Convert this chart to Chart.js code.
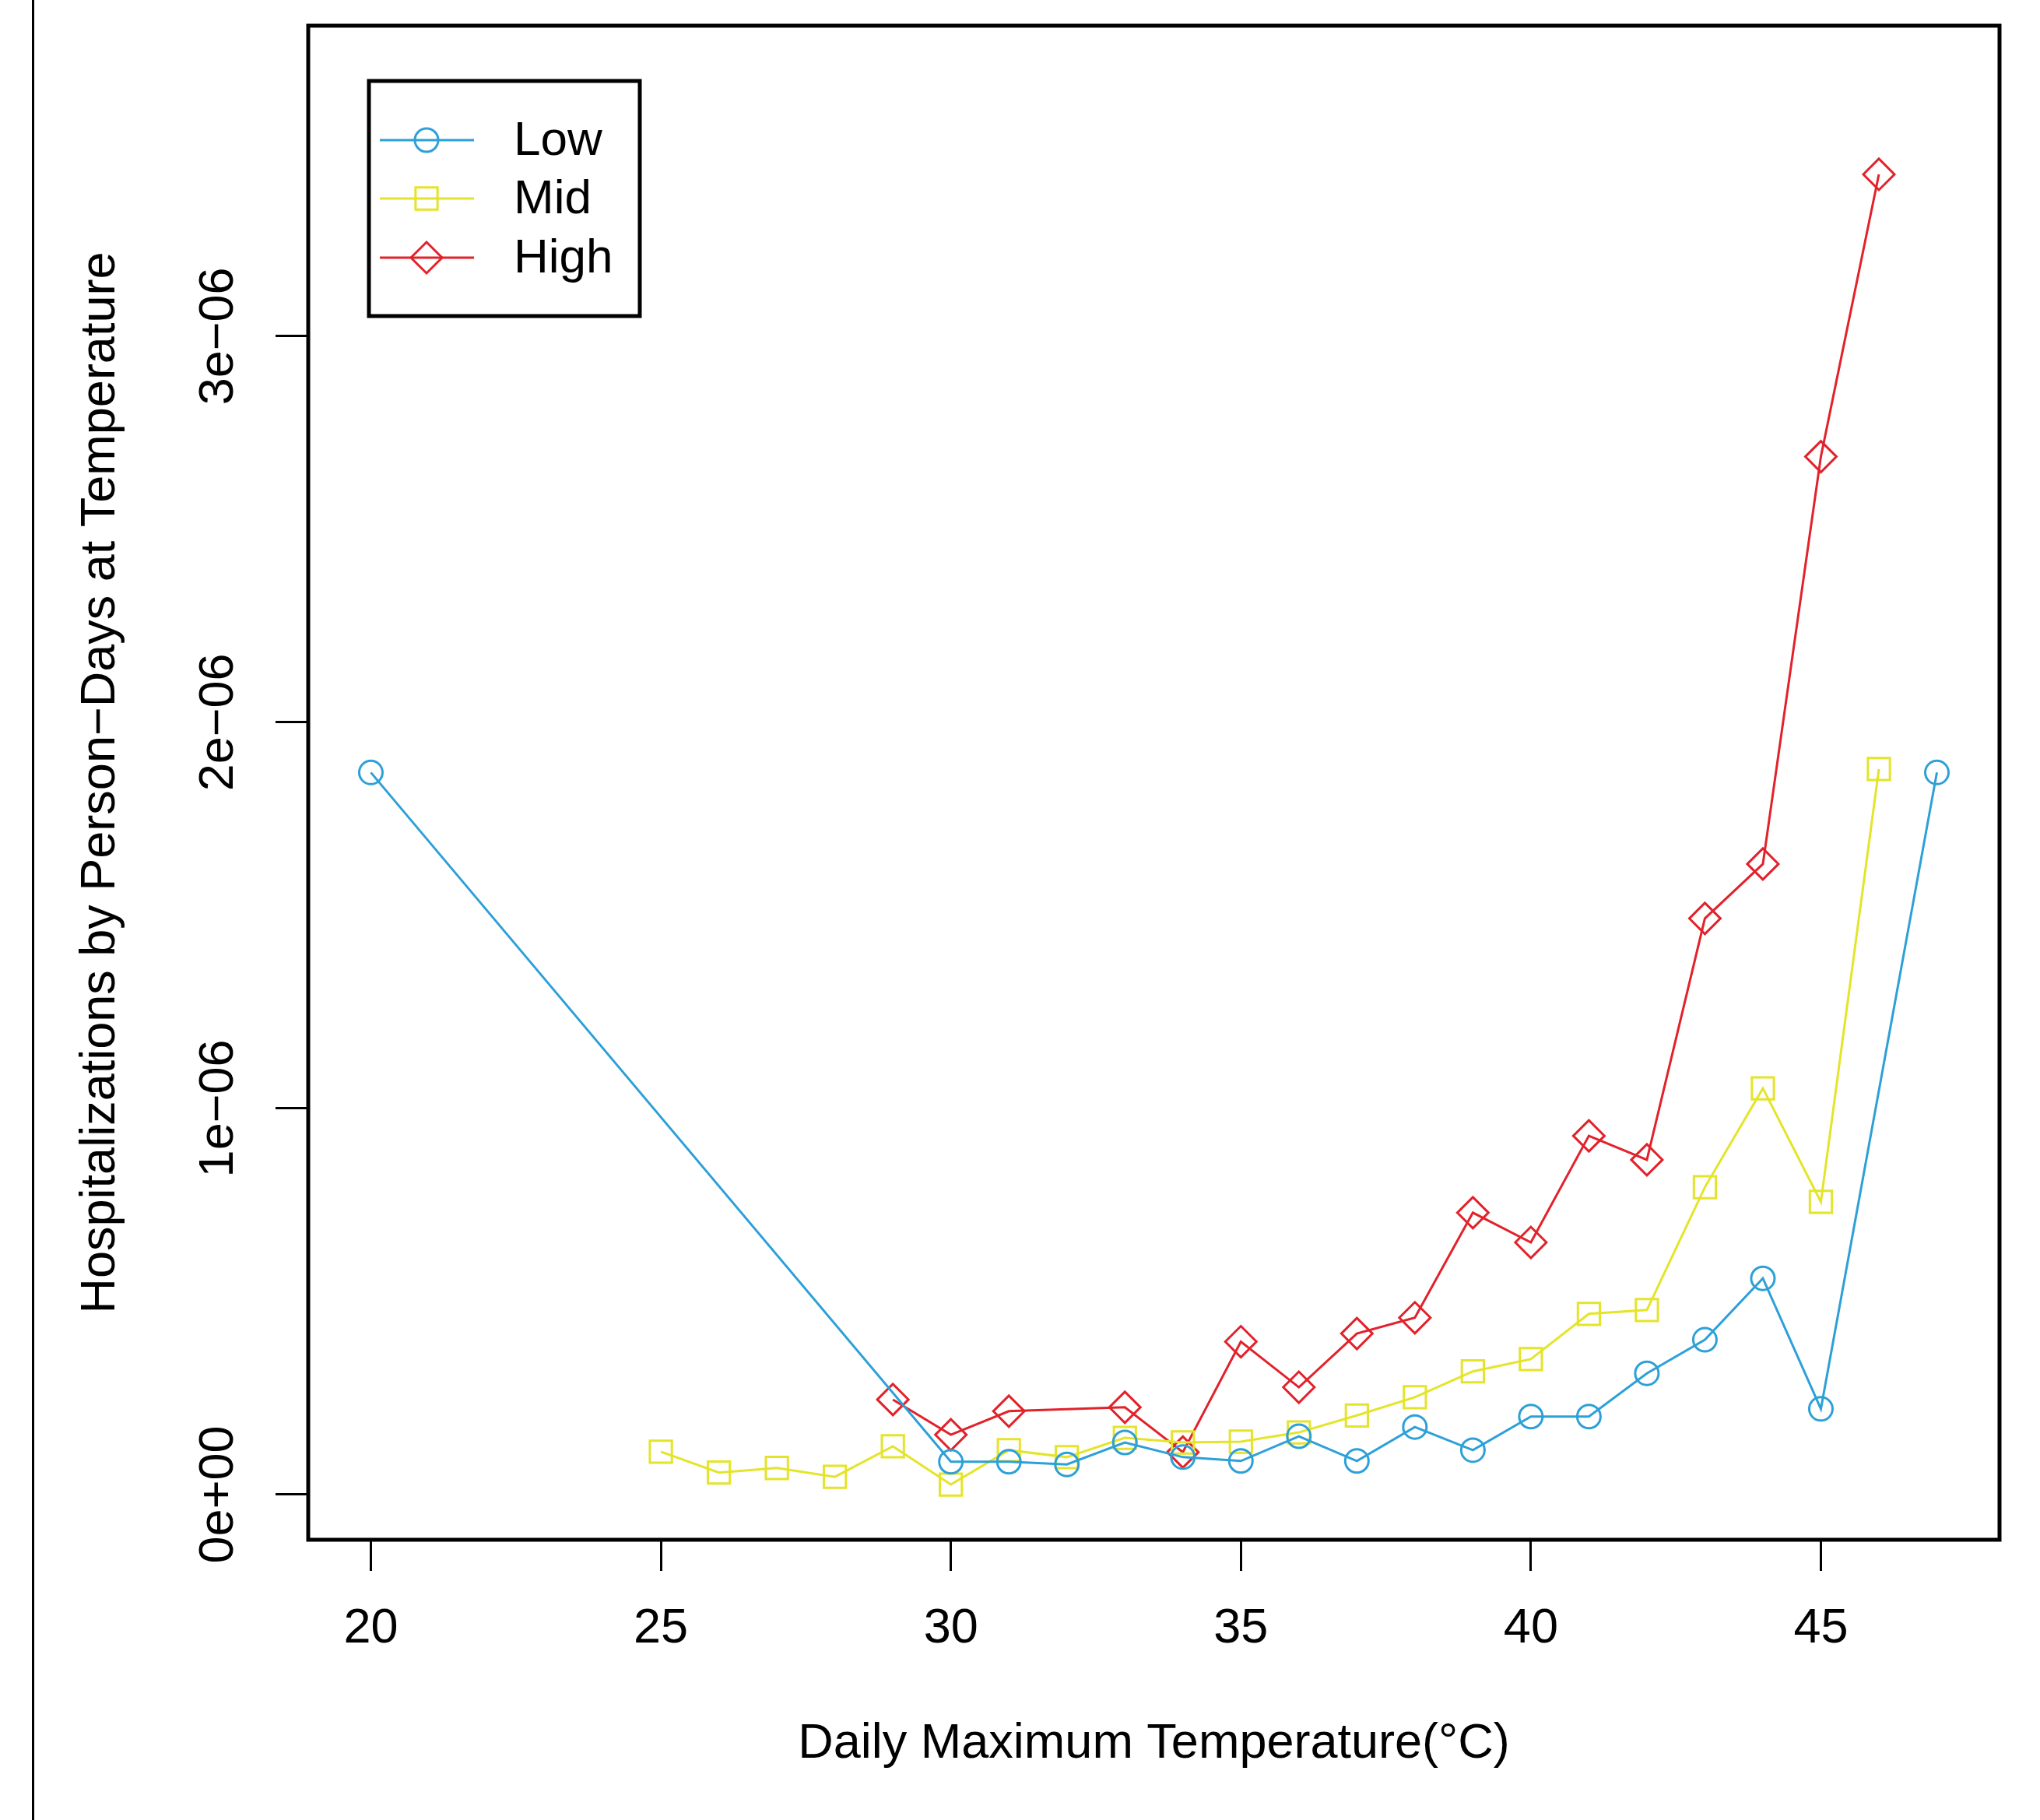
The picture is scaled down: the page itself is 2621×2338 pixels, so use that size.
<!DOCTYPE html>
<html>
<head>
<meta charset="utf-8">
<script src="https://cdn.jsdelivr.net/npm/chart.js@4/dist/chart.umd.min.js"></script>
<style>
  body { margin: 0; background: #fff; }
  canvas { display: block; }
</style>
</head>
<body>
<canvas id="myChart" width="2621" height="2338"></canvas>
<script>
// temperatures (x) and rates (y) for each group
const lowTemps  = [20, 30, 31, 32, 33, 34, 35, 36, 37, 38, 39, 40, 41, 42, 43, 44, 45, 47];
const lowRates  = [1.87e-6, 0.085e-6, 0.085e-6, 0.078e-6, 0.135e-6, 0.097e-6, 0.087e-6, 0.151e-6, 0.087e-6,
                   0.175e-6, 0.115e-6, 0.202e-6, 0.202e-6, 0.314e-6, 0.401e-6, 0.560e-6, 0.222e-6, 1.87e-6];

const midTemps  = [25, 26, 27, 28, 29, 30, 31, 32, 33, 34, 35, 36, 37, 38, 39, 40, 41, 42, 43, 44, 45, 46];
const midRates  = [0.111e-6, 0.057e-6, 0.069e-6, 0.046e-6, 0.125e-6, 0.026e-6, 0.115e-6, 0.097e-6, 0.147e-6,
                   0.135e-6, 0.137e-6, 0.161e-6, 0.205e-6, 0.252e-6, 0.319e-6, 0.351e-6, 0.468e-6, 0.478e-6,
                   0.796e-6, 1.052e-6, 0.758e-6, 1.879e-6];

const highTemps = [29, 30, 31, 33, 34, 35, 36, 37, 38, 39, 40, 41, 42, 43, 44, 45, 46];
const highRates = [0.246e-6, 0.155e-6, 0.216e-6, 0.226e-6, 0.11e-6, 0.396e-6, 0.278e-6, 0.417e-6, 0.458e-6,
                   0.730e-6, 0.653e-6, 0.929e-6, 0.867e-6, 1.492e-6, 1.633e-6, 2.688e-6, 3.419e-6];

const seriesNames = ["Low", "Mid", "High"];
const xTicks = [20, 25, 30, 35, 40, 45];
const yTicks = [0, 1e-6, 2e-6, 3e-6];
const yTickLabels = ["0e+00", "1e\u221206", "2e\u221206", "3e\u221206"];

const colors = ["#2ea0d8", "#e4e42a", "#e2222b"];
const markers = ["circle", "rect", "rectRot"];
const fontFamily = "'Liberation Sans', Arial, sans-serif";
const fontSize = 63;

function toPoints(xs, ys) {
  return xs.map((x, i) => ({ x: x, y: ys[i] }));
}

function drawMarker(ctx, style, x, y, r) {
  ctx.beginPath();
  if (style === "circle") {
    ctx.arc(x, y, r, 0, Math.PI * 2);
  } else if (style === "rect") {
    const h = r * Math.SQRT1_2;
    ctx.rect(x - h, y - h, 2 * h, 2 * h);
  } else {
    ctx.moveTo(x - r, y);
    ctx.lineTo(x, y - r);
    ctx.lineTo(x + r, y);
    ctx.lineTo(x, y + r);
    ctx.closePath();
  }
  ctx.stroke();
}

const pointSizes = [15, 20, 20];

const framePlugin = {
  id: "frame",
  afterDraw(chart) {
    const ctx = chart.ctx;
    const a = chart.chartArea;
    ctx.save();

    // plot box
    ctx.strokeStyle = "#000";
    ctx.lineWidth = 5;
    ctx.strokeRect(a.left, a.top, a.right - a.left, a.bottom - a.top);

    // thin page edge on the left
    ctx.fillStyle = "#000";
    ctx.fillRect(41, 0, 3, chart.height);

    // y tick labels, turned like the R axis
    ctx.font = fontSize + "px " + fontFamily;
    ctx.textAlign = "center";
    ctx.textBaseline = "middle";
    const ys = chart.scales.y;
    yTicks.forEach((v, i) => {
      ctx.save();
      ctx.translate(282, ys.getPixelForValue(v));
      ctx.rotate(-Math.PI / 2);
      ctx.fillText(yTickLabels[i], 0, 0);
      ctx.restore();
    });

    // legend
    ctx.lineWidth = 5;
    ctx.strokeStyle = "#000";
    ctx.strokeRect(474, 104, 348, 302);
    const rows = [180, 255, 331];
    ctx.textAlign = "left";
    ctx.font = "62px " + fontFamily;
    for (let i = 0; i < 3; i++) {
      ctx.strokeStyle = colors[i];
      ctx.lineWidth = 3;
      ctx.beginPath();
      ctx.moveTo(488, rows[i]);
      ctx.lineTo(609, rows[i]);
      ctx.stroke();
      drawMarker(ctx, markers[i], 548, rows[i], pointSizes[i]);
      ctx.fillStyle = "#000";
      ctx.fillText(seriesNames[i], 660, rows[i] + 2);
    }
    ctx.restore();
  }
};

const datasets = [
  toPoints(lowTemps, lowRates),
  toPoints(midTemps, midRates),
  toPoints(highTemps, highRates)
].map((pts, i) => ({
  label: seriesNames[i],
  data: pts,
  borderColor: colors[i],
  backgroundColor: "rgba(0,0,0,0)",
  borderWidth: 3,
  pointStyle: markers[i],
  pointRadius: pointSizes[i],
  pointBorderWidth: 3,
  pointBorderColor: colors[i],
  pointBackgroundColor: "rgba(0,0,0,0)",
  tension: 0
}));

new Chart("myChart", {
  type: "line",
  data: { datasets: datasets },
  options: {
    responsive: false,
    animation: false,
    devicePixelRatio: 1,
    layout: { padding: { top: 33, right: 52, left: 0, bottom: 0 } },
    plugins: {
      legend: { display: false },
      tooltip: { enabled: false }
    },
    scales: {
      x: {
        type: "linear",
        min: 18.92,
        max: 48.08,
        afterBuildTicks: s => { s.ticks = xTicks.map(v => ({ value: v })); },
        afterFit: s => { s.height = 360; },
        border: { display: false },
        grid: { drawOnChartArea: false, drawTicks: true, tickLength: 40, color: "#000", lineWidth: 3 },
        ticks: {
          color: "#000",
          padding: 37,
          maxRotation: 0,
          font: { family: fontFamily, size: fontSize, lineHeight: 1.2 }
        },
        title: {
          display: true,
          text: "Daily Maximum Temperature(°C)",
          color: "#000",
          padding: { bottom: 60 },
          font: { family: fontFamily, size: fontSize, lineHeight: 1.2 }
        }
      },
      y: {
        type: "linear",
        min: -0.117e-6,
        max: 3.804e-6,
        afterBuildTicks: s => { s.ticks = yTicks.map(v => ({ value: v })); },
        afterFit: s => { s.width = 396; },
        border: { display: false },
        grid: { drawOnChartArea: false, drawTicks: true, tickLength: 42, color: "#000", lineWidth: 3 },
        ticks: { display: false },
        title: {
          display: true,
          text: "Hospitalizations by Person\u2212Days at Temperature",
          color: "#000",
          padding: { top: 92 },
          font: { family: fontFamily, size: fontSize, lineHeight: 1.2 }
        }
      }
    }
  },
  plugins: [framePlugin]
});
</script>
</body>
</html>
